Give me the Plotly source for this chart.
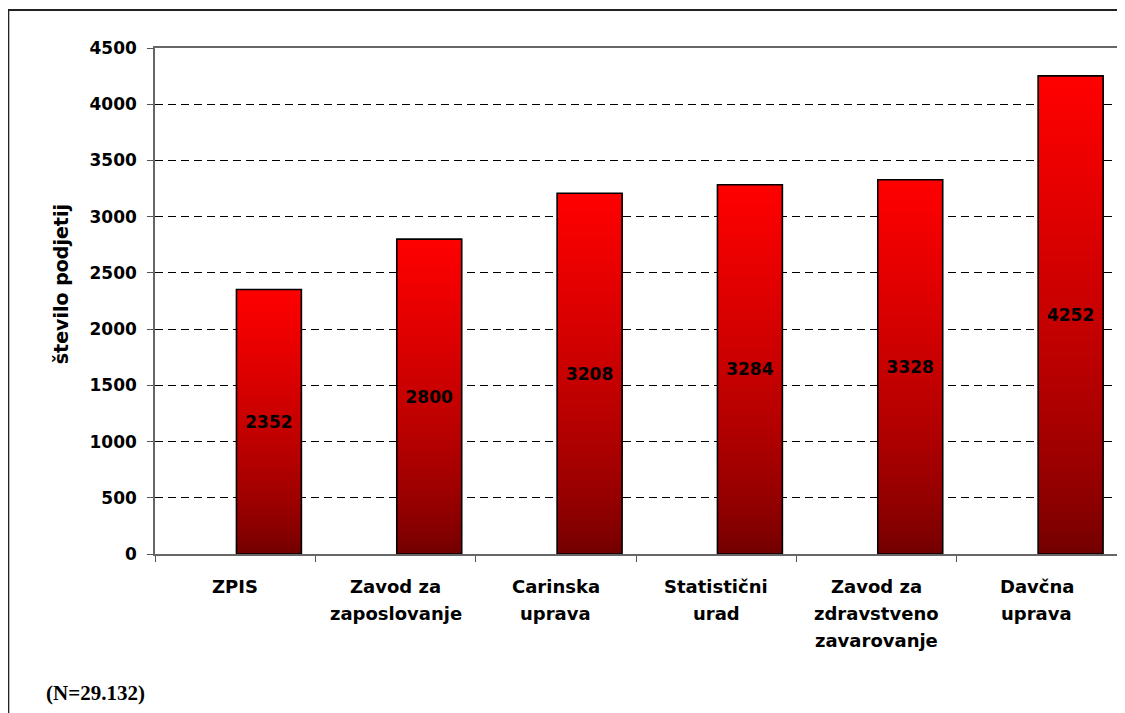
import plotly.graph_objects as go

# ---- data ----
categories = ["ZPIS", "Zavod za zaposlovanje", "Carinska uprava", "Statistični urad",
              "Zavod za zdravstveno zavarovanje", "Davčna uprava"]
label_lines = [["ZPIS"], ["Zavod za", "zaposlovanje"], ["Carinska", "uprava"],
               ["Statistični", "urad"], ["Zavod za", "zdravstveno", "zavarovanje"],
               ["Davčna", "uprava"]]
values = [2352, 2800, 3208, 3284, 3328, 4252]
y_ticks = [0, 500, 1000, 1500, 2000, 2500, 3000, 3500, 4000, 4500]
y_title = "število podjetij"
note = "(N=29.132)"

# page body has an 8px default margin, so the figure is drawn 8px in
OFF = 8
W, H = 1125 - OFF, 713 - OFF
L, T = 155 - OFF, 48 - OFF
PR, PB = 1119 - OFF, 554 - OFF
R, B = W - PR, H - PB
PW, PH = PR - L, PB - T
BAR_W = 0.405
BAR_OFF = 0.008   # bars sit in the right half of each category slot
K = 90
SANS = "DejaVu Sans, Arial, sans-serif"

def grad_color(f):
    r = 110 + 145 * (f ** 0.7)
    return f"rgb({int(round(r))},0,0)"

fig = go.Figure()
# gradient fill built from overlapping bar segments (bottom dark -> top red)
for k in range(K):
    f0 = k / K
    fig.add_trace(go.Bar(
        x=categories,
        base=[v * f0 for v in values],
        y=[v * (1 - f0) for v in values],
        width=BAR_W, offset=BAR_OFF,
        marker=dict(color=grad_color((k + 0.5) / K), line=dict(width=0)),
        hoverinfo="skip", showlegend=False,
    ))
# outline + value labels
fig.add_trace(go.Bar(
    x=categories, y=values, base=[0] * len(values), width=BAR_W, offset=BAR_OFF,
    marker=dict(color="rgba(0,0,0,0)", line=dict(color="black", width=1.6)),
    text=[str(v) for v in values], textposition="inside", insidetextanchor="middle",
    textfont=dict(family=SANS, size=17, color="black", weight="bold"),
    showlegend=False,
))

annotations = []
for cat, lines in zip(categories, label_lines):
    for i, ln in enumerate(lines):
        annotations.append(dict(
            x=cat, xref="x", y=0, yref="paper", yanchor="middle",
            yshift=-32 - 27 * i, text=f"<b>{ln}</b>", showarrow=False,
            font=dict(family=SANS, size=18, color="black")))
annotations.append(dict(
    x=(61 - 155) / PW, xref="paper", xanchor="center",
    y=(554 - 284) / PH, yref="paper", yanchor="middle", textangle=-90,
    text=f"<b>{y_title}</b>", showarrow=False,
    font=dict(family=SANS, size=19, color="black")))
annotations.append(dict(
    x=(44 - 155) / PW, xref="paper", xanchor="left",
    y=(554 - 693) / PH, yref="paper", yanchor="middle",
    text=f"<b>{note}</b>", showarrow=False,
    font=dict(family="Liberation Serif, Times New Roman, serif", size=21, color="black")))

fig.update_layout(
    width=W, height=H, margin=dict(l=L, r=R, t=T, b=B),
    paper_bgcolor="white", plot_bgcolor="white",
    barmode="overlay", bargap=0.6,
    annotations=annotations,
    shapes=[dict(type="rect", xref="paper", yref="paper",
                 x0=(8 - 155) / PW, x1=1.2,
                 y0=-0.6, y1=1 + (48 - 10) / PH,
                 line=dict(color="#222222", width=2), fillcolor="rgba(0,0,0,0)",
                 layer="below")],
)
fig.update_xaxes(
    type="category", showticklabels=False, tickson="boundaries",
    ticks="outside", ticklen=6, tickcolor="#555555",
    showline=True, linecolor="#666666", linewidth=1.5, mirror=True,
    showgrid=False, range=[-0.5, 5.5],
)
fig.update_yaxes(
    range=[0, 4500], tickvals=y_ticks, ticks="outside", ticklen=6, tickcolor="#555555",
    tickfont=dict(family=SANS, size=17, color="black", weight="bold"),
    ticklabelstandoff=7,
    showline=True, linecolor="#666666", linewidth=1.5, mirror=True,
    showgrid=True, gridcolor="black", gridwidth=1, griddash="8px,5px",
    zeroline=False,
)

fig.write_html("out.html")
